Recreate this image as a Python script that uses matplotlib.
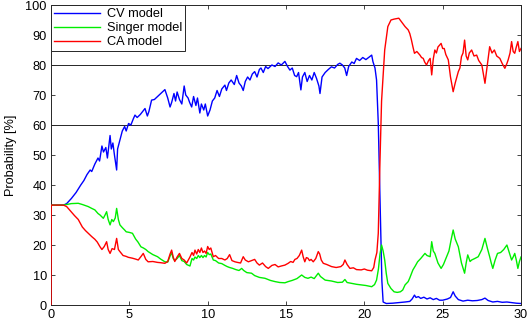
import matplotlib
matplotlib.use("Agg")
import matplotlib.pyplot as plt

plt.rcParams['font.family'] = ['Liberation Sans', 'DejaVu Sans']

labels = ["CV model", "Singer model", "CA model"]

cv_t = [0, 0.8, 1.0, 1.3, 1.6, 1.9, 2.1, 2.3, 2.5, 2.6, 2.8, 3.0, 3.1, 3.25, 3.35, 3.5, 3.6, 3.77, 3.85, 3.95,
        4.05, 4.19, 4.25, 4.4, 4.55, 4.7, 4.8, 4.95, 5.1, 5.25, 5.36, 5.5, 5.7, 5.85, 6.0, 6.15, 6.25, 6.42, 6.6, 6.8,
        7.0, 7.27, 7.45, 7.6, 7.7, 7.85, 7.95, 8.05, 8.2, 8.35, 8.5, 8.6, 8.75, 8.85, 8.98, 9.1, 9.25, 9.35, 9.5, 9.6,
        9.75, 9.85, 10.0, 10.15, 10.3, 10.45, 10.6, 10.75, 10.9, 11.1, 11.2, 11.35, 11.5, 11.7, 11.85, 12.0, 12.15,
        12.27, 12.4, 12.55, 12.7, 12.85, 13.0, 13.15, 13.3, 13.4, 13.55, 13.7, 13.85, 14.1, 14.3, 14.5, 14.7, 14.93,
        15.1, 15.25, 15.4, 15.55, 15.68, 15.8, 15.95, 16.05, 16.2, 16.35, 16.5, 16.65, 16.8, 16.95, 17.1, 17.17,
        17.3, 17.5, 17.7, 17.9, 18.1, 18.3, 18.44, 18.6, 18.75, 18.87, 19.0, 19.2, 19.35, 19.5, 19.7, 19.9, 20.1,
        20.3, 20.47, 20.55, 20.68, 20.78, 20.89, 20.97, 21.05, 21.12, 21.2, 21.4, 21.8, 22.2, 22.6, 22.9, 23.05,
        23.2, 23.3, 23.45, 23.6, 23.8, 24.0, 24.2, 24.4, 24.6, 24.8, 25.0, 25.3, 25.5, 25.67, 25.8, 26.0, 26.3,
        26.6, 26.9, 27.2, 27.5, 27.7, 27.9, 28.2, 28.5, 28.8, 29.1, 29.4, 29.7, 30.0]
cv_v = [33.3, 33.3, 33.8, 35.5, 37.5, 40, 41.5, 43.5, 45, 44.5, 47, 49, 48, 53, 51, 52.5, 49, 56.5, 52, 54,
        50, 45, 52, 55, 58, 59.5, 58, 60.5, 60, 62, 63.3, 62.5, 63.5, 64.5, 65.5, 63, 64.5, 68.3, 68.5, 69.5,
        70.5, 71.8, 69, 66, 67.5, 70.5, 68, 71, 68.5, 67, 73, 70, 69, 67.5, 66, 69.5, 66.5, 69, 64, 67,
        65, 67, 63, 65, 68, 69, 71.5, 69.5, 72, 73.3, 71.5, 74, 75, 73.5, 76.5, 74, 73,
        71.5, 74.5, 76, 75, 77, 77.8, 76, 78.5, 79, 77.5, 79.5, 78.8, 80, 79.5, 80.7, 80, 81.2,
        79.5, 78.3, 79, 76.5, 76.1, 77.5, 71.7, 76, 77.5, 74.5, 76.5, 75, 77.5, 75.5, 73, 70.5,
        76, 77.5, 78.5, 79.4, 79, 80.2, 80.6, 80, 79, 76.5, 79.5, 81, 80.5, 82.2, 81.5, 82.5, 81.8,
        82.6, 83.3, 81.1, 79, 75, 60.6, 42, 22, 8, 1.0, 0.5, 0.6, 0.8, 1.0, 1.2, 2.0,
        3.3, 2.5, 2.8, 2.2, 2.6, 2.0, 2.4, 1.8, 2.2, 1.6, 1.6, 2.0, 2.5, 4.4, 3.0, 1.8, 1.3,
        1.6, 1.4, 1.5, 1.8, 2.3, 1.5, 1.0, 1.2, 0.9, 1.0, 0.8, 0.6, 0.5]

singer_t = [0, 0.8, 1.0, 1.3, 1.74, 2.0, 2.38, 2.6, 2.8, 3.0, 3.13, 3.34, 3.45, 3.55, 3.65, 3.77, 3.88, 3.98,
            4.1, 4.19, 4.3, 4.4, 4.55, 4.7, 4.8, 5.0, 5.2, 5.4, 5.55, 5.74, 5.9, 6.05, 6.2, 6.5, 6.8, 7.0, 7.27,
            7.45, 7.6, 7.7, 7.8, 7.9, 8.05, 8.2, 8.35, 8.5, 8.66, 8.87, 9.0, 9.1, 9.19, 9.3, 9.4, 9.5, 9.6, 9.7,
            9.8, 9.9, 10.0, 10.1, 10.2, 10.36, 10.5, 10.7, 10.9, 11.1, 11.25, 11.4, 11.6, 11.8, 12.0, 12.17, 12.3,
            12.5, 12.8, 13.0, 13.3, 13.66, 14.0, 14.3, 14.6, 14.93, 15.14, 15.4, 15.7, 16.0, 16.2, 16.4, 16.6,
            16.8, 17.06, 17.2, 17.5, 17.9, 18.3, 18.6, 18.76, 18.9, 19.2, 19.5, 19.8, 20.1, 20.47, 20.65, 20.78,
            20.9, 21.0, 21.1, 21.2, 21.3, 21.4, 21.5, 21.7, 21.9, 22.1, 22.3, 22.45, 22.6, 22.8, 22.9, 23.1, 23.25,
            23.4, 23.6, 23.87, 24.0, 24.2, 24.3, 24.4, 24.5, 24.7, 24.9, 25.05, 25.25, 25.4, 25.55, 25.67, 25.8,
            26.0, 26.2, 26.4, 26.5, 26.6, 26.75, 26.85, 27.05, 27.27, 27.5, 27.7, 27.85, 28.0, 28.1, 28.2, 28.35,
            28.5, 28.7, 28.9, 29.1, 29.25, 29.4, 29.5, 29.6, 29.7, 29.8, 29.9, 30.0]
singer_v = [33.3, 33.3, 33.5, 33.8, 33.9, 33.5, 32.8, 32.2, 31.7, 30.5, 30, 28.9, 30, 31.1, 28.5, 26.7, 28.5, 27.8,
            29, 32.2, 28.5, 26.7, 25.8, 25, 24.4, 24.2, 23.9, 22, 21, 19.4, 19, 18.5, 17.8, 16.8, 16.1, 15.3, 14.4,
            14.3, 16.3, 17.5, 15.5, 14.8, 15.5, 16.5, 14.8, 14.5, 13.5, 13, 15.5, 15, 16, 15.5, 16.5, 15.8, 16.5, 15.8,
            16.5, 16, 17.5, 16.8, 17, 15, 14.8, 14, 13.8, 13.2, 12.8, 12.5, 12.2, 11.8, 11.5, 12.2, 11.5,
            10.8, 10.6, 9.8, 9.2, 8.9, 8.2, 7.8, 7.5, 7.4, 7.8, 8.2, 8.8, 10, 9.2, 8.9, 9.3,
            8.8, 10.6, 9.5, 8.3, 8, 7.5, 7.6, 8.5, 7.5, 7.2, 6.9, 6.7, 6.5, 6.1, 6.8, 8.3,
            12, 17, 20, 18, 15, 10.5, 7.2, 5.5, 4.4, 4.2, 4.4, 5.0, 6.7, 7.8, 9, 11.7, 13,
            14.4, 15.5, 17.2, 16.5, 16.1, 21.1, 18, 17.2, 14, 12.2, 13.5, 16.1, 18, 22, 25, 22,
            19.4, 14, 10.6, 14, 16.7, 14.5, 15, 15.5, 16.1, 18.5, 22.2, 19, 16.1, 14, 12.2, 15,
            17.2, 17.5, 18.5, 20, 17.5, 15, 16, 17.2, 15, 12.2, 14.5, 16]

ca_t = [0, 0.01, 0.8, 1.0, 1.3, 1.5, 1.74, 2.0, 2.2, 2.38, 2.6, 2.8, 2.95, 3.13, 3.25, 3.4, 3.55, 3.65, 3.77, 3.9,
        4.05, 4.19, 4.3, 4.4, 4.6, 4.8, 4.93, 5.2, 5.4, 5.57, 5.75, 5.89, 6.05, 6.2, 6.5, 6.8, 7.0, 7.27, 7.45,
        7.6, 7.7, 7.8, 7.9, 8.05, 8.2, 8.35, 8.5, 8.66, 8.87, 9.0, 9.1, 9.19, 9.3, 9.4, 9.5, 9.6, 9.7, 9.8, 9.9,
        10.0, 10.1, 10.2, 10.36, 10.5, 10.7, 10.9, 11.1, 11.25, 11.4, 11.55, 11.74, 11.9, 12.1, 12.27, 12.4, 12.6,
        12.8, 13.0, 13.15, 13.3, 13.5, 13.7, 13.87, 14.1, 14.3, 14.5, 14.7, 14.93, 15.14, 15.3, 15.45, 15.57,
        15.7, 15.85, 16.0, 16.1, 16.2, 16.3, 16.4, 16.5, 16.6, 16.74, 16.9, 17.06, 17.15, 17.25, 17.38, 17.6,
        17.91, 18.2, 18.5, 18.65, 18.76, 18.9, 19.08, 19.3, 19.5, 19.8, 20.0, 20.2, 20.47, 20.6, 20.68, 20.8,
        20.89, 21.0, 21.1, 21.3, 21.5, 21.7, 21.9, 22.2, 22.4, 22.6, 22.8, 22.9, 23.0, 23.1, 23.2, 23.35, 23.55,
        23.65, 23.76, 23.85, 23.97, 24.1, 24.2, 24.3, 24.4, 24.5, 24.6, 24.7, 24.9, 25.0, 25.1, 25.2, 25.36,
        25.5, 25.67, 25.8, 26.0, 26.1, 26.2, 26.3, 26.4, 26.5, 26.6, 26.7, 26.85, 27.0, 27.17, 27.3, 27.5, 27.6,
        27.7, 27.8, 27.9, 28.0, 28.15, 28.3, 28.45, 28.65, 28.8, 28.97, 29.1, 29.18, 29.3, 29.4, 29.5, 29.6,
        29.7, 29.8, 29.9, 30.0]
ca_v = [0, 33.3, 33.3, 32.8, 31, 29.8, 28.5, 26, 24.8, 23.9, 22.8, 21.9, 21, 19.4, 18.5, 19.5, 21.1, 18.5, 17.2, 18.8,
        18.5, 22.2, 18.5, 17.8, 16.5, 16.2, 15.9, 15.6, 15.3, 15.0, 16.2, 17.2, 15.2, 14.4, 14.5, 14.2, 14.1, 13.9, 14.5,
        17, 18.3, 16, 14.5, 16, 17.2, 15.5, 15, 14, 16, 17.5, 16.5, 18.3, 17, 18.5, 17.5, 19, 17.5, 18, 17.2,
        19.5, 18.5, 19, 16.1, 16.5, 15.5, 15.5, 15, 15.5, 16.8, 14.8, 14.4, 14.2, 14, 16.1, 15, 14.4,
        14.8, 15.2, 14, 13.3, 14, 12.8, 12.2, 13.2, 13.5, 12.7, 13, 13.3, 13.9, 14.5, 14.2, 15.2,
        15.5, 16.5, 18.3, 16, 14.4, 15.8, 15.6, 14.8, 15.2, 14.4, 15.5, 17.8, 17, 15, 13.9, 13.5,
        12.8, 12.5, 12.8, 13.5, 15, 13.5, 12.2, 12.4, 11.8, 11.7, 12, 11.6, 11.4, 12.5, 15, 17.5,
        23.9, 48.3, 68, 85, 92.8, 95, 95.3, 95.6, 94.2, 92.8, 91.7, 90.5, 88.5, 86.1, 83.9, 84.5, 83.3,
        82.5, 82.2, 81, 80, 81.5, 82.2, 76.7, 82, 85, 84, 86, 87.2, 85.5, 85.5, 83.5, 81.7,
        76, 71.1, 74, 77.8, 79, 82.8, 84, 88.3, 83, 81.7, 84, 85, 83, 83.3, 81.5, 80, 77,
        73.9, 78, 82, 86.1, 84, 85, 83, 82.2, 80.5, 78.9, 80.5, 81.7, 84, 87.8, 84.5, 83.9,
        86, 87.8, 84.5, 85.5]

x_ticks = [0, 5, 10, 15, 20, 25, 30]
y_ticks = [0, 10, 20, 30, 40, 50, 60, 70, 80, 90, 100]
grid_levels = [60, 80]

fig = plt.figure(figsize=(5.29, 3.23), dpi=100)
ax = fig.add_axes([51 / 529, 1 - 305 / 323, 470 / 529, 300 / 323])

for g in grid_levels:
    ax.axhline(g, color='#262626', lw=0.7, zorder=1)

ax.plot(cv_t, cv_v, color='#0000ff', lw=1.0, label=labels[0], zorder=3)
ax.plot(singer_t, singer_v, color='#00ee00', lw=1.0, label=labels[1], zorder=3)
ax.plot(ca_t, ca_v, color='#ff0000', lw=1.0, label=labels[2], zorder=4)

ax.set_xlim(0, 30)
ax.set_ylim(0, 100)
ax.set_xticks(x_ticks)
ax.set_yticks(y_ticks)
ax.tick_params(direction='in', length=3, width=0.6, top=True, right=True, labelsize=9.2, pad=3, colors='#262626')
ax.tick_params(labelcolor='black')
for s in ax.spines.values():
    s.set_linewidth(0.7)
    s.set_color('#262626')
ax.set_ylabel("Probability [%]", fontsize=9.2, labelpad=6)

leg = ax.legend(loc='upper left', borderaxespad=0, fancybox=False, edgecolor='#262626', framealpha=1,
                fontsize=9.2, handlelength=3.6, handletextpad=0.5, labelspacing=0.15, borderpad=0.25)
leg.get_frame().set_linewidth(0.7)
leg.set_zorder(10)

fig.savefig("out.png", dpi=100)
